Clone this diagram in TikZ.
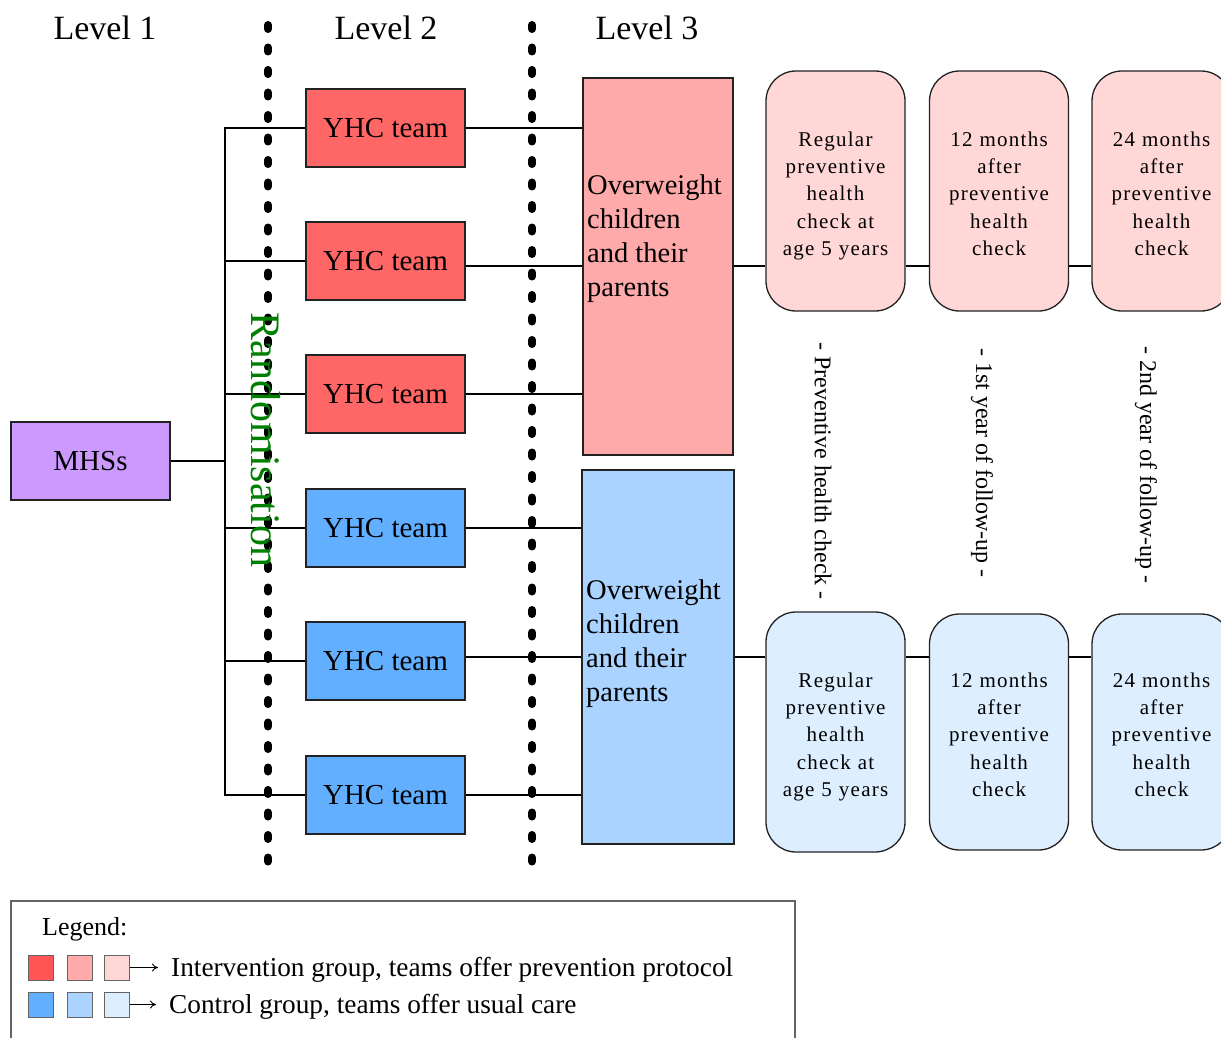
\documentclass[tikz,border=0pt]{standalone}
\usepackage{fontspec}
\setmainfont{Liberation Serif}
\usetikzlibrary{arrows.meta}
\definecolor{redA}{HTML}{FF6666}
\definecolor{redL}{HTML}{FF5555}
\definecolor{redB}{HTML}{FFAAAA}
\definecolor{redC}{HTML}{FFD7D7}
\definecolor{bluA}{HTML}{62AFFF}
\definecolor{bluB}{HTML}{AAD4FF}
\definecolor{bluC}{HTML}{DDEEFF}
\definecolor{purp}{HTML}{CC99FF}
\definecolor{rgreen}{HTML}{008000}
\definecolor{edge}{HTML}{222222}
\newcommand{\topstrut}{\rule{0pt}{24.5pt}}
\newcommand{\botstrut}{\rule[-4.7pt]{0pt}{0pt}}
\tikzset{
  box/.style={draw=edge, line width=1.3pt, inner sep=0pt},
  yhc/.style={box, minimum width=159, minimum height=78, font=\fontsize{29}{34}\selectfont},
  owbox/.style={box, minimum width=150},
  chk/.style={box, rounded corners=30, minimum width=139, minimum height=240, align=center, text width=135,
     font=\fontsize{21}{27.3}\selectfont\addfontfeatures{LetterSpace=6}},
  lvl/.style={font=\fontsize{34}{40}\selectfont},
  vtxt/.style={rotate=-90, font=\fontsize{24}{28}\selectfont},
  conn/.style={line width=1.2pt, black},
  dotline/.style={line width=8pt, line cap=round, dash pattern=on 4pt off 18.5pt},
  lsq/.style={draw=edge!70, line width=1pt, minimum width=25, minimum height=25, inner sep=0pt},
  ltxt/.style={anchor=west, inner xsep=13pt, font=\fontsize{27.3}{30}\selectfont}
}
\begin{document}
\begin{tikzpicture}[x=1pt, y=-1pt]
\useasboundingbox (0,0) rectangle (1221,1038);
\clip (0,0) rectangle (1221,1038);
% coordinates
\coordinate (bx) at (225,461);
\coordinate (ry) at (0,266);
\coordinate (by) at (0,657);
\coordinate (d1s) at (268,25);
\coordinate (d1e) at (268,862);
\coordinate (d2s) at (532,25);
\coordinate (d2e) at (532,862);
% level labels
\node[lvl] (l1) at (105,28) {Level 1};
\node[lvl] (l2) at (386,28) {Level 2};
\node[lvl] (l3) at (647,28) {Level 3};
% MHSs
\node[box, fill=purp, minimum width=159, minimum height=78, font=\fontsize{29}{34}\selectfont] (m) at (90.5,461) {MHSs};
% YHC teams
\node[yhc, fill=redA] (y1) at (385.5,128) {YHC team};
\node[yhc, fill=redA] (y2) at (385.5,261) {YHC team};
\node[yhc, fill=redA] (y3) at (385.5,394) {YHC team};
\node[yhc, fill=bluA] (y4) at (385.5,528) {YHC team};
\node[yhc, fill=bluA] (y5) at (385.5,661) {YHC team};
\node[yhc, fill=bluA] (y6) at (385.5,795) {YHC team};
% Overweight boxes
\node[owbox, fill=redB, minimum height=377] (ow1) at (658,266.5) {};
\node[owbox, fill=bluB, minimum height=374, minimum width=152] (ow2) at (658,657) {};
\node[anchor=north west, inner sep=0pt, align=left, font=\fontsize{28.5}{34}\selectfont] (t1) at (587,175) {Overweight\\children\\and their\\parents};
\node[anchor=north west, inner sep=0pt, align=left, font=\fontsize{28.5}{34}\selectfont] (t2) at (586,580) {Overweight\\children\\and their\\parents};
% check boxes
\node[chk, fill=redC] (ra) at (835.5,191) {\topstrut Regular\\preventive\\health\\check at\\age 5 years\botstrut};
\node[chk, fill=redC] (rb) at (999,191) {\topstrut 12 months\\after\\preventive\\health\\check\botstrut};
\node[chk, fill=redC] (rc) at (1161.5,191) {\topstrut 24 months\\after\\preventive\\health\\check\botstrut};
\node[chk, fill=bluC] (ba) at (835.5,732) {\topstrut Regular\\preventive\\health\\check at\\age 5 years\botstrut};
\node[chk, fill=bluC, minimum height=236] (bb) at (999,732) {\topstrut 12 months\\after\\preventive\\health\\check\botstrut};
\node[chk, fill=bluC, minimum height=236] (bc) at (1161.5,732) {\topstrut 24 months\\after\\preventive\\health\\check\botstrut};
% connectors
\draw[conn] (m.east) -- (bx);
\foreach \i in {1,...,6} {\draw[conn] (y\i.west) -| (bx);}
\draw[conn] (y1.east) -- (y1.east -| ow1.west);
\draw[conn] (y2.east |- ry) -- (ow1.west |- ry);
\draw[conn] (y3.east) -- (y3.east -| ow1.west);
\draw[conn] (y4.east) -- (y4.east -| ow2.west);
\draw[conn] (y5.east |- by) -- (ow2.west |- by);
\draw[conn] (y6.east) -- (y6.east -| ow2.west);
\draw[conn] (ow1.east |- ry) -- (ra.west |- ry);
\draw[conn] (ra.east |- ry) -- (rb.west |- ry);
\draw[conn] (rb.east |- ry) -- (rc.west |- ry);
\draw[conn] (ow2.east |- by) -- (ba.west |- by);
\draw[conn] (ba.east |- by) -- (bb.west |- by);
\draw[conn] (bb.east |- by) -- (bc.west |- by);
% dotted separators
\draw[dotline] (d1s) -- (d1e);
\draw[dotline] (d2s) -- (d2e);
% vertical texts
\node[rotate=-90, text=rgreen, font=\fontsize{42}{46}\selectfont] (rand) at (266,440) {Randomisation};
\node[vtxt] (v1) at (823,471) {- Preventive health check -};
\node[vtxt] (v2) at (982,463) {- 1st year of follow-up -};
\node[vtxt] (v3) at (1146,465) {- 2nd year of follow-up -};
% legend
\draw[edge!70, line width=1.2pt] (11,1045) |- (795,901) -- (795,1045);
\node[anchor=west, inner sep=0pt, font=\fontsize{26}{30}\selectfont] (lg) at (42,929) {Legend:};
\node[lsq, fill=redL] (lr1) at (40.5,967.5) {};
\node[lsq, fill=redB] (lr2) at (79.5,967.5) {};
\node[lsq, fill=redC] (lr3) at (116.5,967.5) {};
\node[ltxt] (lt1) at (158,970) {Intervention group, teams offer prevention protocol};
\draw[line width=0.9pt, -{To[length=6pt,width=8pt]}] (lr3.east) -- (lr3.east -| lt1.west);
\node[lsq, fill=bluA] (lb1) at (40.5,1004.5) {};
\node[lsq, fill=bluB] (lb2) at (79.5,1004.5) {};
\node[lsq, fill=bluC] (lb3) at (116.5,1004.5) {};
\node[ltxt] (lt2) at (156,1007) {Control group, teams offer usual care};
\draw[line width=0.9pt, -{To[length=6pt,width=8pt]}] (lb3.east) -- (lb3.east -| lt2.west);
\end{tikzpicture}
\end{document}
